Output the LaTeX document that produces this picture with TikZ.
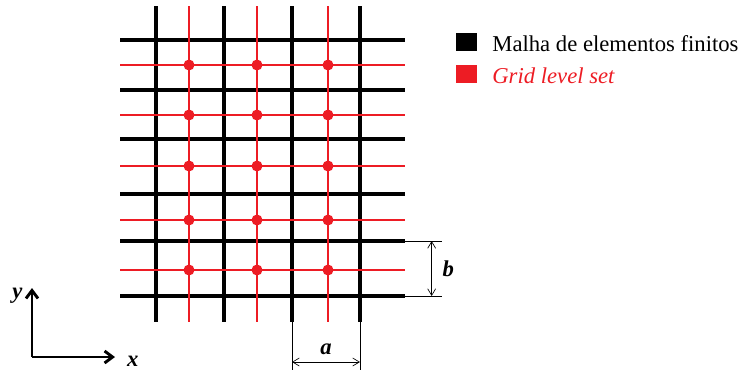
\documentclass[tikz,border=0pt]{standalone}
\usepackage{fontspec}
\setmainfont{Liberation Serif}
\usetikzlibrary{arrows.meta,positioning}
\definecolor{gridred}{RGB}{237,28,36}
\begin{document}
\begin{tikzpicture}[x=0.75pt, y=-0.75pt,
  mesh/.style={line width=3pt},
  lsgrid/.style={gridred, line width=0.85pt},
  dimline/.style={line width=0.5pt},
  dimarrow/.style={line width=0.5pt, {Straight Barb[length=5pt,width=6pt]}-{Straight Barb[length=5pt,width=6pt]}},
  axis/.style={line width=2.2pt, -{Straight Barb[length=6pt,width=9pt]}},
  lbl/.style={font=\fontsize{17}{20}\selectfont\bfseries\itshape, inner sep=0pt},
  legbox/.style={minimum width=16pt, minimum height=13.5pt, inner sep=0pt},
  legtext/.style={font=\fontsize{17}{20}\selectfont, inner sep=0pt, anchor=base west}]
\useasboundingbox (0,0) rectangle (741,372);

% malha de elementos finitos
\foreach \x in {156,224,292,360} \draw[mesh] (\x,6) -- (\x,322);
\foreach \y in {40,90,139,194,241,296} \draw[mesh] (120,\y) -- (405,\y);

% grid level set
\foreach \x in {189,257,328} \draw[lsgrid] (\x,6) -- (\x,322);
\foreach \y in {65,115,166,220,270} \draw[lsgrid] (120,\y) -- (405,\y);
\foreach \x in {189,257,328}
  \foreach \y in {65,115,166,220,270}
    \fill[gridred] (\x,\y) circle (5.5);

% cota a
\coordinate (a1) at (292,322);
\coordinate (a2) at (360,322);
\draw[dimline] (a1) -- ++(0,48);
\draw[dimline] (a2) -- ++(0,48);
\draw[dimarrow] ([yshift=-30pt]a1) -- ([yshift=-30pt]a2) node[lbl, midway, above=5pt] (la) {a};

% cota b
\coordinate (b1) at (405,241);
\coordinate (b2) at (405,296);
\draw[dimline] (b1) -- ++(37,0);
\draw[dimline] (b2) -- ++(37,0);
\draw[dimarrow] ([xshift=20pt]b1) -- ([xshift=20pt]b2) node[lbl, midway, right=8pt] (lb) {b};

% eixos
\coordinate (o) at (32,357);
\draw[axis] (o) -- (32,288) node[lbl, left=6pt, yshift=-6pt] (ly) {y};
\draw[axis] (o) -- (115,357) node[lbl, right=8pt, yshift=-3pt] (lx) {x};

% legenda
\node[legbox, fill=black] (m) at (466.5,42) {};
\node[legbox, fill=gridred] (g) at (466.5,74) {};
\node[legtext] (mt) at ([xshift=11pt]m.south east) {Malha de elementos finitos};
\node[legtext, text=gridred] (gt) at ([xshift=11pt]g.south east) {\itshape Grid level set};
\end{tikzpicture}
\end{document}
